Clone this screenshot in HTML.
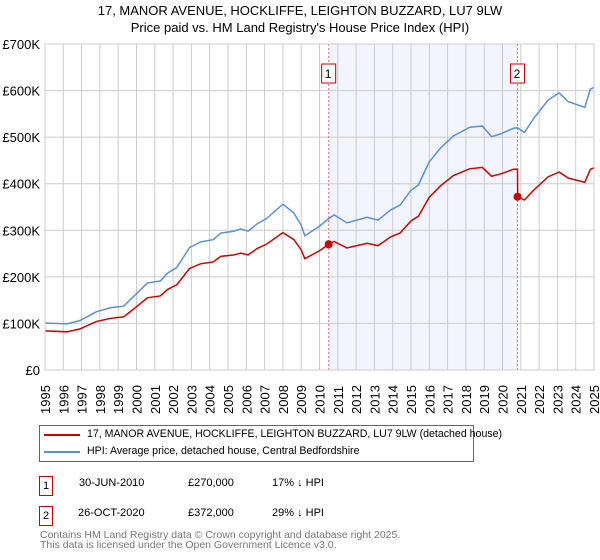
<!DOCTYPE html>
<html><head><meta charset="utf-8"><style>
body{margin:0;background:#fff;font-family:"Liberation Sans","DejaVu Sans",sans-serif;}
#wrap{position:relative;width:600px;height:560px;overflow:hidden}
.t{position:absolute;font-size:11px;color:#000;white-space:nowrap}
</style></head><body><div id="wrap">
<div class="t" style="left:0;width:600px;text-align:center;top:3px;font-size:13px">17, MANOR AVENUE, HOCKLIFFE, LEIGHTON BUZZARD, LU7 9LW</div>
<div class="t" style="left:0;width:600px;text-align:center;top:20px;font-size:13px">Price paid vs. HM Land Registry's House Price Index (HPI)</div>
<svg id="svg" width="600" height="560" style="position:absolute;left:0;top:0"></svg>
<div style="position:absolute;left:39px;top:425px;width:433px;height:35px;border:1px solid #666;">
<div style="position:absolute;left:4px;top:8px;width:36px;height:2px;background:#cc0000"></div>
<div class="t" style="left:47px;top:2px;font-size:10.6px">17, MANOR AVENUE, HOCKLIFFE, LEIGHTON BUZZARD, LU7 9LW (detached house)</div>
<div style="position:absolute;left:4px;top:25px;width:36px;height:2px;background:#5b8fd6"></div>
<div class="t" style="left:47px;top:19px;font-size:10.6px">HPI: Average price, detached house, Central Bedfordshire</div>
</div>
<div>
<div class="t" style="left:39px;top:476px;width:12px;height:18px;border:1px solid #cc0000;text-align:center;line-height:18px">1</div>
<div class="t" style="left:79px;top:477px">30-JUN-2010</div>
<div class="t" style="left:188px;top:477px">£270,000</div>
<div class="t" style="left:272px;top:477px">17% ↓ HPI</div></div>
<div>
<div class="t" style="left:39px;top:506px;width:12px;height:18px;border:1px solid #cc0000;text-align:center;line-height:18px">2</div>
<div class="t" style="left:78px;top:507px">26-OCT-2020</div>
<div class="t" style="left:188px;top:507px">£372,000</div>
<div class="t" style="left:272px;top:507px">29% ↓ HPI</div></div>
<div class="t" style="left:40px;top:530px;color:#777;line-height:10px;font-size:10.5px">Contains HM Land Registry data © Crown copyright and database right 2025.<br>This data is licensed under the Open Government Licence v3.0.</div>
</div>
<script>
const hpiYears=[1995.0,1996.2,1996.9,1997.8,1998.6,1999.3,2000.0,2000.6,2001.3,2001.7,2002.2,2002.9,2003.5,2004.2,2004.6,2005.3,2005.7,2006.1,2006.6,2007.1,2008.0,2008.6,2009.0,2009.2,2010.0,2010.5,2010.8,2011.5,2012.6,2013.2,2013.9,2014.4,2015.0,2015.4,2016.0,2016.6,2017.3,2018.2,2018.9,2019.4,2019.9,2020.6,2020.82,2021.2,2021.7,2022.5,2023.1,2023.6,2024.5,2024.8,2025.0];
const hpiValues=[101,99,106,125,134,137,164,187,191,208,220,263,275,280,294,298,303,298,314,325,356,337,311,288,309,325,333,316,328,322,344,354,386,397,447,476,502,521,524,501,507,519,520,510,540,580,595,576,564,603,607];
const priceYears=[1995.0,1996.2,1996.9,1997.8,1998.6,1999.3,2000.0,2000.6,2001.3,2001.7,2002.2,2002.9,2003.5,2004.2,2004.6,2005.3,2005.7,2006.1,2006.6,2007.1,2008.0,2008.6,2009.0,2009.2,2010.0,2010.5,2010.8,2011.5,2012.6,2013.2,2013.9,2014.4,2015.0,2015.4,2016.0,2016.6,2017.3,2018.2,2018.9,2019.4,2019.9,2020.6,2020.82,2020.83,2021.2,2021.7,2022.5,2023.1,2023.6,2024.5,2024.8,2025.0];
const priceValues=[84,82,88,104,111,114,136,155,159,173,183,218,228,232,244,247,251,247,261,270,295,280,258,239,256,270,276,262,272,267,286,294,320,330,371,395,417,432,435,416,421,431,431,372,365,386,415,425,412,403,431,434];
const saleYears=[2010.5,2020.82];
const saleValues=[270,372];
const saleLabels=["1","2"];
const yTicks=[0,100,200,300,400,500,600,700];
const yTickLabels=["£0","£100K","£200K","£300K","£400K","£500K","£600K","£700K"];
const xTicks=[];for(let y=1995;y<=2025;y++)xTicks.push(y);
const L=45,R=594,T=44,B=370;
const X=y=>L+(y-1995)/30*(R-L), Y=v=>B-v/700*(B-T);
const svg=document.getElementById('svg');const NS='http://www.w3.org/2000/svg';
function mk(t,a){const e=document.createElementNS(NS,t);for(const k in a)e.setAttribute(k,a[k]);svg.appendChild(e);return e;}
let e=mk('rect',{x:X(saleYears[0]),y:T,width:X(saleYears[1])-X(saleYears[0]),height:B-T,fill:'#f2f5fd'});


xTicks.forEach((yr,i)=>{const l=mk('line',{x1:X(yr),x2:X(yr),y1:T,y2:B,stroke:'#ccc','stroke-width':1});


const t=mk('text',{x:0,y:0,transform:`translate(${X(yr)+5},${414}) rotate(-90)`,'font-size':13,'font-family':'Liberation Sans, sans-serif'});t.textContent=yr;

});
yTicks.forEach((v,i)=>{const l=mk('line',{x1:L,x2:R,y1:Y(v),y2:Y(v),stroke:'#ccc','stroke-width':1});


const t=mk('text',{x:L-5,y:Y(v)+5,'text-anchor':'end','font-size':13,'font-family':'Liberation Sans, sans-serif'});t.textContent=yTickLabels[i];

});
saleYears.forEach((yr,i)=>{const l=mk('line',{x1:X(yr),x2:X(yr),y1:T,y2:B,stroke:'#f07070','stroke-width':1,'stroke-dasharray':'2,2'});


const r=mk('rect',{x:X(yr)-7,y:T+20,width:14,height:19,fill:'#fff',stroke:'#cc0000'});


const t=mk('text',{x:X(yr)-0.5,y:T+34,'text-anchor':'middle','font-size':12,'font-family':'Liberation Sans, sans-serif'});t.textContent=saleLabels[i];

});
const hp=mk('polyline',{points:hpiYears.map((y,i)=>X(y)+','+Y(hpiValues[i])).join(' '),fill:'none',stroke:'#5b8fd6','stroke-width':1.5});


const pp=mk('polyline',{points:priceYears.map((y,i)=>X(y)+','+Y(priceValues[i])).join(' '),fill:'none',stroke:'#cc0000','stroke-width':1.5});


saleYears.forEach((yr,i)=>{const c=mk('circle',{cx:X(yr),cy:Y(saleValues[i]),r:4,fill:'#cc0000'});

});
const fr=mk('rect',{x:L,y:T,width:R-L,height:B-T,fill:'none',stroke:'#ccc'});


</script></body></html>
